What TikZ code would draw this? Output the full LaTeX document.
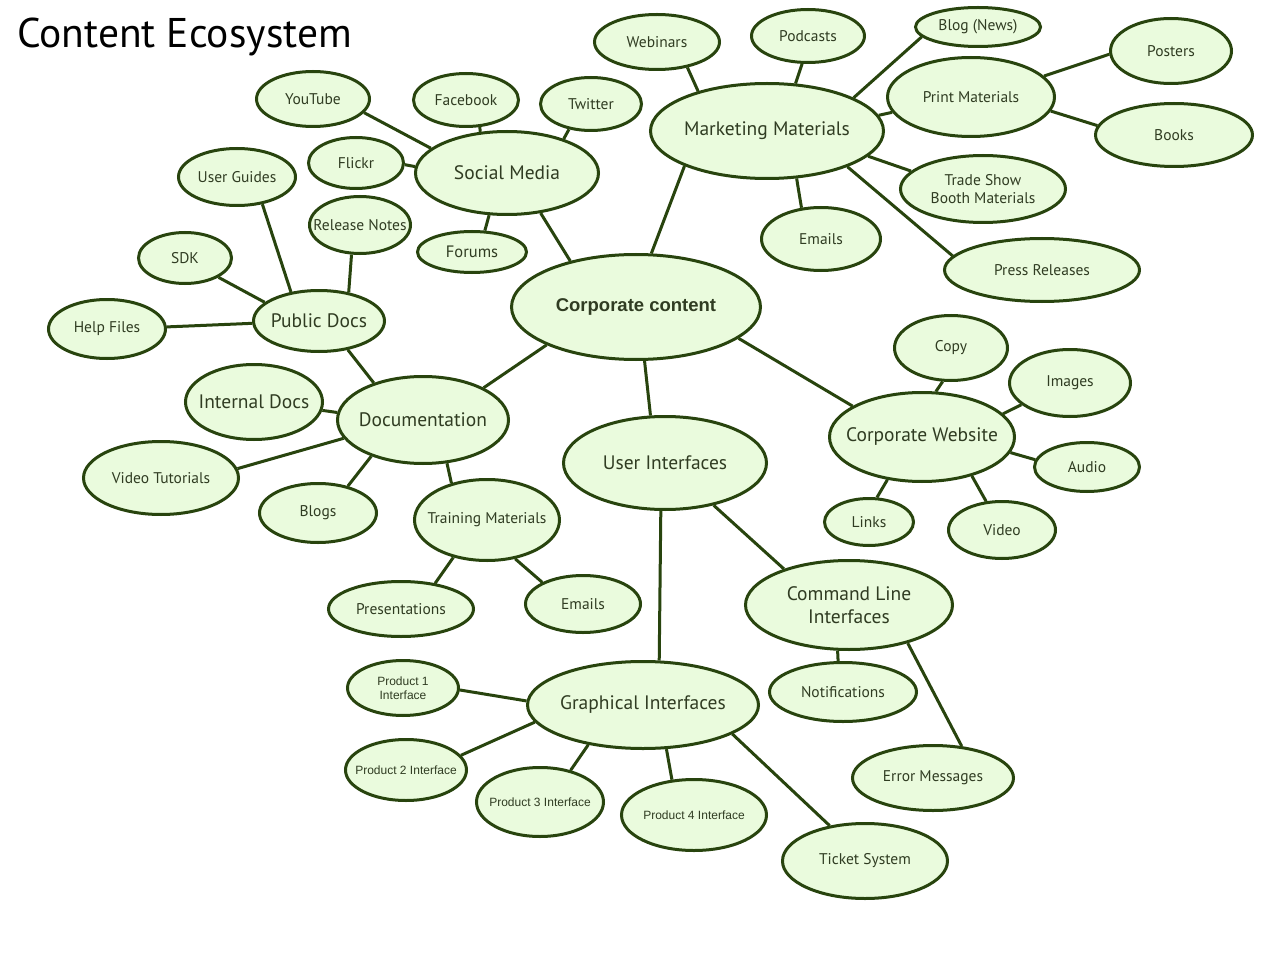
\documentclass[tikz,border=0pt]{standalone}
\usepackage{fontspec}
\setmainfont{PT Sans}
\newfontfamily\arialf{Liberation Sans}
\usetikzlibrary{shapes.geometric}
\definecolor{fillc}{RGB}{234,251,221}
\definecolor{edgec}{RGB}{40,68,14}
\definecolor{txtc}{RGB}{48,60,34}
\newcommand{\fL}{\fontsize{19.5}{23}\selectfont}
\newcommand{\fS}{\fontsize{15.5}{18}\selectfont}
\newcommand{\fP}{\arialf\fontsize{12}{14}\selectfont}
\newcommand{\fPs}{\arialf\fontsize{12}{14}\selectfont}
\pgfdeclarelayer{bg}
\pgfsetlayers{bg,main}
\tikzset{
  bub/.style={ellipse, draw=edgec, fill=fillc, line width=3pt,
    inner xsep=-40pt, inner ysep=-12pt,
    text=txtc, align=center, font=\fS},
  big/.style={bub, font=\fL},
  prod/.style={bub, font=\fP},
  conn/.style={draw=edgec, line width=3pt},
  sz/.style 2 args={minimum width=#1pt, minimum height=#2pt}
}
\begin{document}
\begin{tikzpicture}[x=1pt,y=-1pt]
\useasboundingbox (0,0) rectangle (1280,960);
\node[anchor=west, inner sep=0pt, font=\fontsize{41.5}{48}\selectfont] (title) at (17,37) {Content Ecosystem};

\node[bub, sz={249}{105}, font=\arialf\bfseries\fontsize{18.5}{20}\selectfont] (corp) at (636,307) {Corporate content};
\node[big, sz={233}{95}] (mkt) at (767,131) {Marketing Materials};
\node[bub, sz={125}{55}] (web) at (657,42) {Webinars};
\node[bub, sz={113}{53}] (pod) at (808,36) {Podcasts};
\node[bub, sz={125}{39}] (blog) at (978,27) {Blog (News)};
\node[bub, sz={167}{79}] (print) at (971,97) {Print Materials};
\node[bub, sz={121}{65}] (post) at (1171,51) {Posters};
\node[bub, sz={157}{63}] (books) at (1174,135) {Books};
\node[bub, sz={165}{67}] (trade) at (983,189) {Trade Show\\Booth Materials};
\node[bub, sz={119}{63}] (emailm) at (821,239) {Emails};
\node[bub, sz={195}{63}] (press) at (1042,270) {Press Releases};

\node[big, sz={183}{83}] (soc) at (507,173) {Social Media};
\node[bub, sz={113}{55}] (yt) at (313,99) {YouTube};
\node[bub, sz={105}{53}] (fb) at (466,100) {Facebook};
\node[bub, sz={101}{53}] (tw) at (591,104) {Twitter};
\node[bub, sz={95}{51}] (fl) at (356,163) {Flickr};
\node[bub, sz={109}{41}, font=\fontsize{16.5}{18}\selectfont] (forum) at (472,252) {Forums};

\node[bub, sz={117}{57}] (ug) at (237,177) {User Guides};
\node[bub, sz={101}{57}] (rn) at (360,225) {Release Notes};
\node[bub, sz={93}{51}] (sdk) at (185,258) {SDK};
\node[big, sz={131}{61}] (pd) at (319,321) {Public Docs};
\node[bub, sz={117}{59}] (hf) at (107,329) {Help Files};
\node[big, sz={137}{75}] (int) at (254,402) {Internal Docs};
\node[big, sz={171}{87}] (doc) at (423,420) {Documentation};
\node[bub, sz={155}{73}] (vt) at (161,478) {Video Tutorials};
\node[bub, sz={117}{59}] (blogs) at (318,513) {Blogs};
\node[bub, sz={145}{81}] (train) at (487,520) {Training Materials};
\node[bub, sz={145}{55}] (pres) at (401,609) {Presentations};
\node[bub, sz={115}{57}] (emailt) at (583,604) {Emails};

\node[big, sz={203}{93}] (ui) at (665,463) {User Interfaces};
\node[big, sz={231}{87}] (gi) at (643,705) {Graphical Interfaces};
\node[prod, sz={111}{55}, font=\fPs] (p1) at (403,688) {Product 1\\Interface};
\node[prod, sz={121}{61}] (p2) at (406,770) {Product 2 Interface};
\node[prod, sz={127}{69}] (p3) at (540,802) {Product 3 Interface};
\node[prod, sz={145}{71}] (p4) at (694,815) {Product 4 Interface};
\node[bub, sz={165}{75}] (ticket) at (865,861) {Ticket System};
\node[big, sz={207}{89}] (cli) at (849,605) {Command Line\\Interfaces};
\node[bub, sz={147}{59}] (notif) at (843,692) {Notifications};
\node[bub, sz={161}{65}] (err) at (933,778) {Error Messages};

\node[big, sz={185}{89}] (cw) at (922,437) {Corporate Website};
\node[bub, sz={113}{65}] (copy) at (951,348) {Copy};
\node[bub, sz={121}{67}] (img) at (1070,383) {Images};
\node[bub, sz={105}{49}] (audio) at (1087,467) {Audio};
\node[bub, sz={89}{47}] (links) at (869,522) {Links};
\node[bub, sz={107}{57}] (video) at (1002,530) {Video};

\begin{pgfonlayer}{bg}
\fill[white] (0,0) rectangle (1280,960);
\draw[conn] (corp.145) -- (soc.310);
\draw[conn] (corp.74) -- (mkt.203);
\draw[conn] (corp.203) -- (doc.28);
\draw[conn] (corp.279) -- (ui.107);
\draw[conn] (corp.343) -- (cw.156);
\draw[conn] (ui.265) -- (gi.70);
\draw[conn] (ui.319) -- (cli.151);
\draw[conn] (gi.178) -- (p1.358);
\draw[conn] (gi.189) -- (p2.15);
\draw[conn] (gi.216) -- (p3.46);
\draw[conn] (gi.298) -- (p4.122);
\draw[conn] (gi.342) -- (ticket.135);
\draw[conn] (cli.256) -- (notif.99);
\draw[conn] (cli.327) -- (err.48);
\draw[conn] (cw.73) -- (copy.256);
\draw[conn] (cw.16) -- (img.204);
\draw[conn] (cw.350) -- (audio.172);
\draw[conn] (cw.231) -- (links.72);
\draw[conn] (cw.322) -- (video.119);
\draw[conn] (mkt.150) -- (web.320);
\draw[conn] (mkt.59) -- (pod.258);
\draw[conn] (mkt.21) -- (blog.190);
\draw[conn] (mkt.8) -- (print.191);
\draw[conn] (mkt.346) -- (trade.166);
\draw[conn] (mkt.302) -- (emailm.122);
\draw[conn] (mkt.336) -- (press.171);
\draw[conn] (print.16) -- (post.183);
\draw[conn] (print.350) -- (books.173);
\draw[conn] (soc.162) -- (yt.345);
\draw[conn] (soc.123) -- (fb.297);
\draw[conn] (soc.31) -- (tw.229);
\draw[conn] (soc.176) -- (fl.358);
\draw[conn] (soc.247) -- (forum.59);
\draw[conn] (doc.143) -- (pd.315);
\draw[conn] (pd.134) -- (ug.313);
\draw[conn] (pd.44) -- (rn.254);
\draw[conn] (pd.161) -- (sdk.330);
\draw[conn] (pd.182) -- (hf.2);
\draw[conn] (doc.175) -- (int.353);
\draw[conn] (doc.193) -- (vt.7);
\draw[conn] (doc.215) -- (blogs.42);
\draw[conn] (doc.299) -- (train.134);
\draw[conn] (train.228) -- (pres.37);
\draw[conn] (train.306) -- (emailt.152);
\end{pgfonlayer}
\end{tikzpicture}
\end{document}
